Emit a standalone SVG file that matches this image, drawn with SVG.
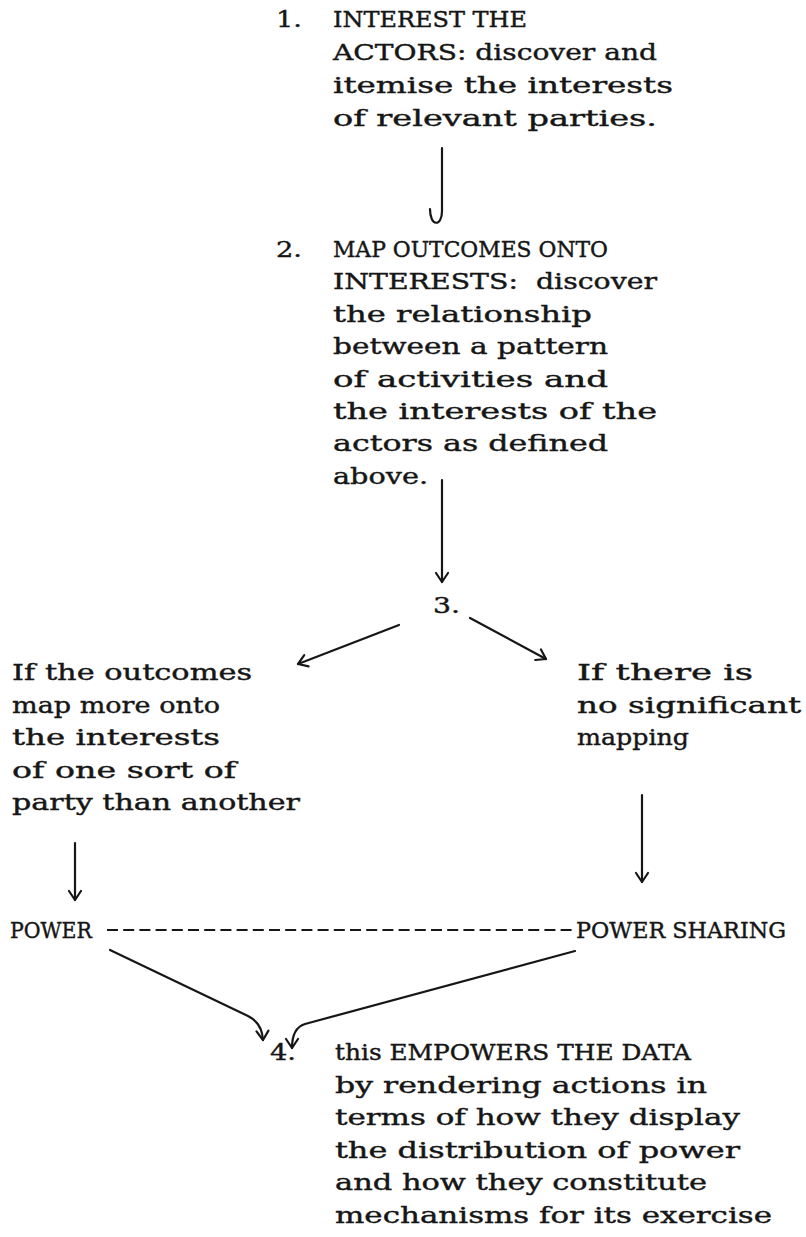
<svg xmlns="http://www.w3.org/2000/svg" width="806" height="1237" viewBox="0 0 806 1237">
<style>
text{font-family:"DejaVu Serif","Liberation Serif",serif;font-size:22px;fill:#161616;stroke:#161616;stroke-width:0.4;white-space:pre}
.c{fill:none;stroke:#161616;stroke-width:2.2;stroke-linecap:round;stroke-linejoin:round}
.d{fill:none;stroke:#161616;stroke-width:2.2;stroke-dasharray:11 5.2}
</style>
<defs>
<marker id="ah" markerUnits="userSpaceOnUse" viewBox="-12 -10 14 20" markerWidth="14" markerHeight="20" refX="0" refY="0" orient="auto">
<path d="M-9,-6 L0,0 L-9,6" fill="none" stroke="#161616" stroke-width="2.2" stroke-linecap="round" stroke-linejoin="round"/>
</marker>
</defs>
<rect width="806" height="1237" fill="#ffffff"/>
<g id="step1">
<text x="276" y="27" textLength="26" lengthAdjust="spacingAndGlyphs">1.</text>
<text x="333" y="27" textLength="194" lengthAdjust="spacingAndGlyphs">INTEREST THE</text>
<text x="333" y="60" textLength="324" lengthAdjust="spacingAndGlyphs">ACTORS: discover and</text>
<text x="333" y="93" textLength="340" lengthAdjust="spacingAndGlyphs">itemise the interests</text>
<text x="333" y="126" textLength="324" lengthAdjust="spacingAndGlyphs">of relevant parties.</text>
</g>
<g id="step2">
<text x="276" y="257" textLength="26" lengthAdjust="spacingAndGlyphs">2.</text>
<text x="333" y="257" textLength="275" lengthAdjust="spacingAndGlyphs">MAP OUTCOMES ONTO</text>
<text x="333" y="289.4" textLength="324" lengthAdjust="spacingAndGlyphs">INTERESTS:  discover</text>
<text x="333" y="321.8" textLength="259" lengthAdjust="spacingAndGlyphs">the relationship</text>
<text x="333" y="354.2" textLength="275" lengthAdjust="spacingAndGlyphs">between a pattern</text>
<text x="333" y="386.6" textLength="275" lengthAdjust="spacingAndGlyphs">of activities and</text>
<text x="333" y="419" textLength="324" lengthAdjust="spacingAndGlyphs">the interests of the</text>
<text x="333" y="451.4" textLength="275" lengthAdjust="spacingAndGlyphs">actors as defined</text>
<text x="333" y="483.8" textLength="95" lengthAdjust="spacingAndGlyphs">above.</text>
</g>
<g id="step3">
<text x="433" y="613" textLength="27" lengthAdjust="spacingAndGlyphs">3.</text>
</g>
<g id="branch-left">
<text x="12" y="680" textLength="240" lengthAdjust="spacingAndGlyphs">If the outcomes</text>
<text x="12" y="712.5" textLength="208" lengthAdjust="spacingAndGlyphs">map more onto</text>
<text x="12" y="745" textLength="208" lengthAdjust="spacingAndGlyphs">the interests</text>
<text x="12" y="777.5" textLength="224" lengthAdjust="spacingAndGlyphs">of one sort of</text>
<text x="12" y="810" textLength="288" lengthAdjust="spacingAndGlyphs">party than another</text>
</g>
<g id="branch-right">
<text x="577" y="680" textLength="176" lengthAdjust="spacingAndGlyphs">If there is</text>
<text x="577" y="712.5" textLength="224" lengthAdjust="spacingAndGlyphs">no significant</text>
<text x="577" y="745" textLength="112" lengthAdjust="spacingAndGlyphs">mapping</text>
</g>
<g id="power">
<text x="10" y="938" textLength="82" lengthAdjust="spacingAndGlyphs">POWER</text>
</g>
<g id="power-sharing">
<text x="576" y="938" textLength="210" lengthAdjust="spacingAndGlyphs">POWER SHARING</text>
</g>
<g id="step4">
<text x="270" y="1060" textLength="26" lengthAdjust="spacingAndGlyphs">4.</text>
<text x="335" y="1060" textLength="356" lengthAdjust="spacingAndGlyphs">this EMPOWERS THE DATA</text>
<text x="335" y="1092.5" textLength="372" lengthAdjust="spacingAndGlyphs">by rendering actions in</text>
<text x="335" y="1125" textLength="405" lengthAdjust="spacingAndGlyphs">terms of how they display</text>
<text x="335" y="1157.5" textLength="405" lengthAdjust="spacingAndGlyphs">the distribution of power</text>
<text x="335" y="1190" textLength="372" lengthAdjust="spacingAndGlyphs">and how they constitute</text>
<text x="335" y="1222.5" textLength="437" lengthAdjust="spacingAndGlyphs">mechanisms for its exercise</text>
</g>
<g id="connectors">
<path class="c" d="M442,148 V211 C442,227 430,227 430,209"/>
<path class="c" d="M442,480 V582" marker-end="url(#ah)"/>
<path class="c" d="M399,625 L298,664" marker-end="url(#ah)"/>
<path class="c" d="M470,618 L546,659" marker-end="url(#ah)"/>
<path class="c" d="M75,843 V900" marker-end="url(#ah)"/>
<path class="c" d="M642,795 V882" marker-end="url(#ah)"/>
<path class="d" d="M107,930 H574"/>
<path class="c" d="M110,950 L248,1016 Q262,1023 263,1040" marker-end="url(#ah)"/>
<path class="c" d="M575,951 L305,1024 Q292,1028 292,1048" marker-end="url(#ah)"/>
</g>
</svg>
